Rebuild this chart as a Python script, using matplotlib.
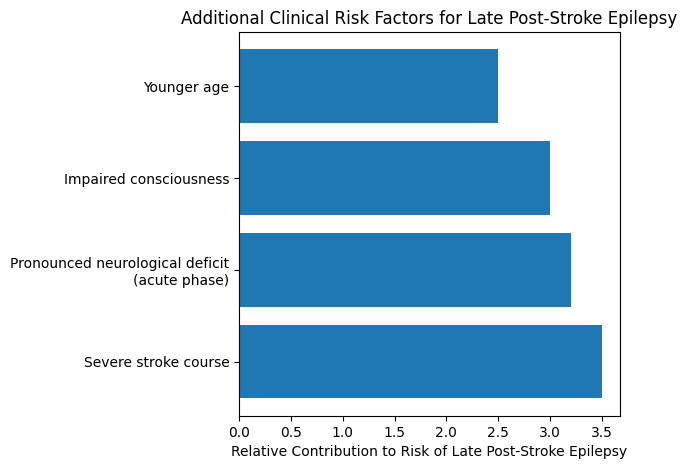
import matplotlib
matplotlib.use("Agg")
import matplotlib.pyplot as plt

factors = [
    "Severe stroke course",
    "Pronounced neurological deficit\n(acute phase)",
    "Impaired consciousness",
    "Younger age",
]
contribution = [3.5, 3.2, 3.0, 2.5]

fig, ax = plt.subplots(figsize=(6.87, 4.70), dpi=100)
ax.barh(factors, contribution, color="#1f77b4")
ax.set_xlabel("Relative Contribution to Risk of Late Post-Stroke Epilepsy")
ax.set_title("Additional Clinical Risk Factors for Late Post-Stroke Epilepsy")

fig.subplots_adjust(left=0.348, right=0.9025, top=0.932, bottom=0.115)
fig.savefig("out.png", dpi=100)
